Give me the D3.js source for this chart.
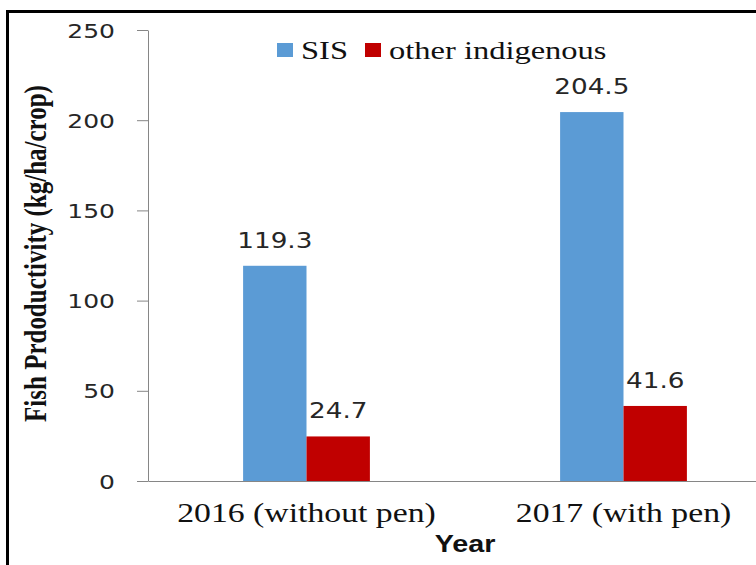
<!DOCTYPE html>
<html lang="en">
<head>
    <meta charset="UTF-8">
    <title>Fish productivity</title>
    <script src="https://d3js.org/d3.v7.min.js"></script>
    <style>
        body {margin: 0; background: #fff;}
        svg {display: block;}
        .tick line, .domain {stroke: #868686;}
    </style>
</head>
<body>
<script>
    const width  = 756;
    const height = 565;
    const stretch = 1.25;   // the picture is widened sideways, text too

    const years  = ["2016 (without pen)", "2017 (with pen)"];
    const series = ["SIS", "other indigenous"];
    const sis    = [119.3, 204.5];
    const other  = [24.7, 41.6];
    const yTicks = [0, 50, 100, 150, 200, 250];
    const colors = ["#5B9BD5", "#C00000"];

    const rows = years.map((y, i) => ({year: y, values: [sis[i], other[i]]}));

    const x0 = d3.scaleBand().domain(years).range([148, 782]);
    const x1 = d3.scaleBand().domain(series).range([0, x0.bandwidth()]).paddingOuter(1.5);
    const y  = d3.scaleLinear().domain([0, 250]).range([481, 30]);

    const svg = d3.select("body").append("svg").attr("width", width).attr("height", height);

    // frame, only the left and top edges show
    svg.append("rect")
        .attr("x", 7.5).attr("y", 11.5)
        .attr("width", 900).attr("height", 700)
        .attr("fill", "none").attr("stroke", "#000").attr("stroke-width", 3);

    // bars
    const groups = svg.selectAll("g.grp").data(rows).enter().append("g")
        .attr("class", "grp")
        .attr("transform", d => "translate(" + x0(d.year) + ",0)");

    groups.selectAll("rect").data(d => d.values.map((v, i) => ({s: series[i], v: v, i: i})))
        .enter().append("rect")
        .attr("x", d => x1(d.s))
        .attr("y", d => y(d.v))
        .attr("width", x1.bandwidth())
        .attr("height", d => y(0) - y(d.v))
        .attr("fill", d => colors[d.i]);

    groups.selectAll("text.val").data(d => d.values.map((v, i) => ({s: series[i], v: v})))
        .enter().append("text")
        .attr("class", "val")
        .attr("transform", d => "translate(" + (x1(d.s) + x1.bandwidth() / 2) + "," + (y(d.v) - 18) + ") scale(" + stretch + ",1)")
        .attr("text-anchor", "middle")
        .style("font", "21px 'DejaVu Sans'")
        .style("fill", "#262626")
        .text(d => d.v.toFixed(1));

    // axes
    const yAxis = d3.axisLeft(y).tickValues(yTicks).tickSize(11).tickSizeOuter(0);
    const gy = svg.append("g").attr("transform", "translate(148,0)").call(yAxis);
    gy.selectAll("text")
        .attr("x", null).attr("dy", null)
        .attr("transform", "translate(-33,7) scale(" + stretch + ",1)")
        .style("font", "20px 'DejaVu Sans'")
        .style("fill", "#262626");

    const xAxis = d3.axisBottom(x0).tickSize(0).tickSizeOuter(0);
    const gx = svg.append("g").attr("transform", "translate(0,481)").call(xAxis);
    gx.selectAll("text")
        .attr("y", null).attr("dy", null)
        .attr("transform", "translate(0,41) scale(" + stretch + ",1)")
        .style("font", "27px 'Liberation Serif'")
        .style("fill", "#111");

    // axis titles
    svg.append("text")
        .attr("transform", "translate(465,552) scale(" + stretch + ",1)")
        .attr("text-anchor", "middle")
        .style("font", "bold 23px 'Liberation Sans'")
        .style("fill", "#111")
        .text("Year");

    svg.append("text")
        .attr("transform", "translate(46,253.5) scale(" + stretch + ",1) rotate(-90)")
        .attr("text-anchor", "middle")
        .style("font", "bold 25px 'Liberation Serif'")
        .style("fill", "#111")
        .text("Fish Prdoductivity (kg/ha/crop)");

    // legend
    const legendX = [277, 365];
    const legend = svg.selectAll("g.leg").data(series).enter().append("g")
        .attr("class", "leg")
        .attr("transform", (d, i) => "translate(" + legendX[i] + ",43)");
    legend.append("rect")
        .attr("width", 16).attr("height", 14)
        .attr("fill", (d, i) => colors[i]);
    legend.append("text")
        .attr("transform", "translate(24,16) scale(" + stretch + ",1)")
        .style("font", "26px 'Liberation Serif'")
        .style("fill", "#111")
        .text(d => d);
</script>
</body>
</html>
